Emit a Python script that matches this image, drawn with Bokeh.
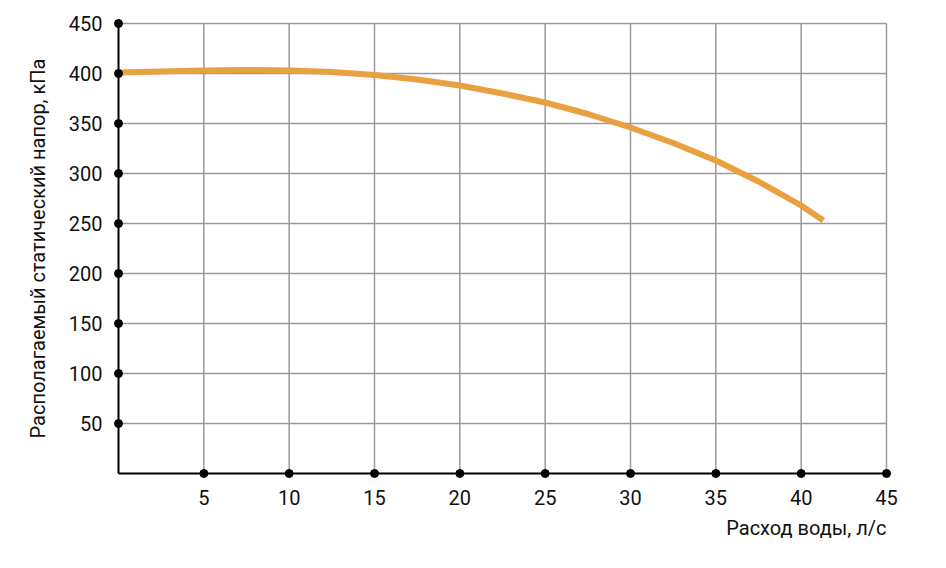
from bokeh.plotting import figure
from bokeh.models import FixedTicker, Range1d, Title
from bokeh.embed import file_html
from bokeh.resources import INLINE

# Data
flow = [0, 2.5, 5, 7.5, 10, 12.5, 15, 17.5, 20, 22.5, 25, 27.5, 30, 32.5, 35, 37.5, 40, 41.3]
pressure = [401, 402, 403, 403.5, 403, 401.5, 398.5, 394, 388, 380, 371, 359.5, 346, 330.5, 313, 292, 268, 253]
x_ticks = [5, 10, 15, 20, 25, 30, 35, 40, 45]
y_ticks = [50, 100, 150, 200, 250, 300, 350, 400, 450]
x_max = 45
y_max = 450
x_label = "Расход воды, л/с"
y_label = "Располагаемый статический напор, кПа"

FONT = "Roboto"
GRID = "#9a9a9a"
TXT = "#111111"

# small padding so that the tick dots on the axes are not clipped
xpad = 5 / (768 / 45)
ypad = 5.0

p = figure(width=938, height=560, output_backend="svg", toolbar_location=None,
           x_range=Range1d(-xpad, x_max + xpad), y_range=Range1d(-ypad, y_max + ypad),
           min_border_left=113, min_border_right=47, min_border_top=18, min_border_bottom=82)

p.background_fill_color = "white"
p.border_fill_color = "white"
p.outline_line_color = None
p.xgrid.visible = False
p.ygrid.visible = False

p.xaxis.ticker = FixedTicker(ticks=x_ticks)
p.yaxis.ticker = FixedTicker(ticks=y_ticks)

for ax in (p.xaxis, p.yaxis):
    ax.axis_line_color = None
    ax.major_tick_line_color = None
    ax.minor_tick_line_color = None
    ax.major_tick_out = 0
    ax.major_tick_in = 0
    ax.minor_tick_out = 0
    ax.major_label_text_font = FONT
    ax.major_label_text_font_size = "20px"
    ax.major_label_text_color = TXT
    ax.axis_label_text_font = FONT
    ax.axis_label_text_font_size = "20px"
    ax.axis_label_text_font_style = "normal"
    ax.axis_label_text_color = TXT

p.yaxis.axis_label = y_label
p.xaxis.major_label_standoff = 11
p.yaxis.major_label_standoff = 11
p.yaxis.axis_label_standoff = 16

# grid lines
p.segment(x0=x_ticks, y0=[0] * len(x_ticks), x1=x_ticks, y1=[y_max] * len(x_ticks),
          line_color=GRID, line_width=1.5)
p.segment(x0=[0] * len(y_ticks), y0=y_ticks, x1=[x_max] * len(y_ticks), y1=y_ticks,
          line_color=GRID, line_width=1.5)

# axis lines
p.segment(x0=[0, 0], y0=[0, 0], x1=[0, x_max], y1=[y_max, 0], line_color="black", line_width=2)

# curve
p.line(flow, pressure, line_color="#E8A040", line_width=6)

# tick dots
p.scatter([0] * len(y_ticks), y_ticks, size=8, color="black")
p.scatter(x_ticks, [0] * len(x_ticks), size=8, color="black")

# x-axis title, right aligned under the plot
p.add_layout(Title(text=x_label, align="right", text_font=FONT, text_font_size="20px",
                   text_font_style="normal", text_color=TXT, offset=5, standoff=13), "below")

open("out.html", "w").write(file_html(p, INLINE))
